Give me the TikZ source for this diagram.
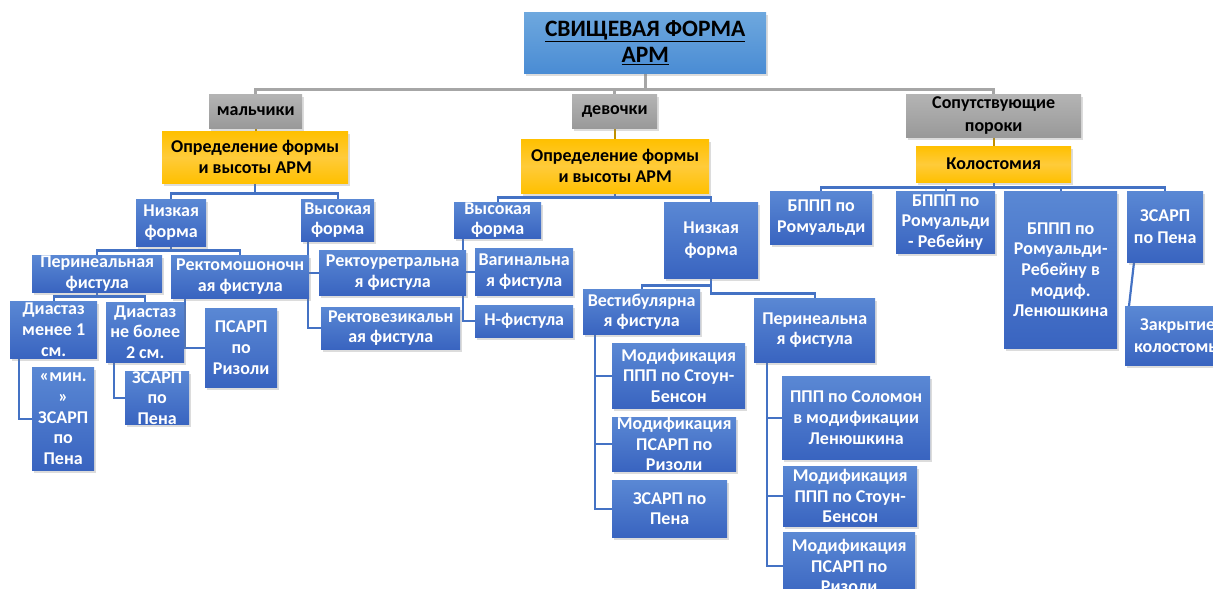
\documentclass[tikz,border=0pt]{standalone}
\usepackage{fontspec}
\setmainfont{Carlito}
\usetikzlibrary{shadows,calc}
\pgfdeclarelayer{background}
\pgfsetlayers{background,main}
\definecolor{bTop}{HTML}{5A88D4}
\definecolor{bBot}{HTML}{3964C0}
\definecolor{tTop}{HTML}{6EA8DE}
\definecolor{tBot}{HTML}{4A8CD4}
\definecolor{gTop}{HTML}{B4B4B4}
\definecolor{gBot}{HTML}{999999}
\definecolor{yTop}{HTML}{FFC000}
\definecolor{yMid}{HTML}{FFCB3A}
\definecolor{lineBlue}{HTML}{4472C4}
\definecolor{lineGray}{HTML}{A6A6A6}
\definecolor{lineGold}{HTML}{C09000}
\tikzset{
  sz/.style 2 args={minimum width=#1pt, minimum height=#2pt},
  base/.style={anchor=north west, inner sep=0pt, align=center,
    font=\bfseries\fontsize{18}{20.6}\selectfont,
    drop shadow={shadow xshift=1.5pt, shadow yshift=-3pt, opacity=0.28}},
  bbox/.style={base, text=white, top color=bTop, bottom color=bBot},
  gbox/.style={base, text=black, top color=gTop, bottom color=gBot},
  ybox/.style={base, text=black, top color=yTop, bottom color=yTop, middle color=yMid},
  tbox/.style={base, text=black, top color=tTop, bottom color=tBot,
    font=\bfseries\fontsize{23.5}{26}\selectfont},
  gline/.style={draw=lineGray, line width=2.6pt},
  yline/.style={draw=lineGold, line width=2.2pt},
  bline/.style={draw=lineBlue, line width=2.2pt},
}
\begin{document}
\begin{tikzpicture}[x=1pt, y=-1pt]
\useasboundingbox (0,0) rectangle (1213,589);
\clip (0,0) rectangle (1213,589);

% top level
\node[tbox, sz={242}{61}] (top) at (524,12) {\underline{СВИЩЕВАЯ ФОРМА}\\\underline{АРМ}};
\node[gbox, sz={93}{34}] (boys) at (209,94) {мальчики};
\node[gbox, sz={85}{34}] (girls) at (572,94) {девочки};
\node[gbox, sz={175}{43}, font=\bfseries\fontsize{18}{23}\selectfont] (assoc) at (906,94) {Сопутствующие\\пороки};
\node[ybox, sz={186}{52}] (defB) at (162,131) {Определение формы\\и высоты АРМ};
\node[ybox, sz={188}{54}] (defG) at (521,139) {Определение формы\\и высоты АРМ};
\node[ybox, sz={155}{36}] (colo) at (916,146) {Колостомия};

% boys
\node[bbox, sz={70}{47}] (lowB) at (136,199) {Низкая\\форма};
\node[bbox, sz={73}{42}] (highB) at (301,199) {Высокая\\форма};
\node[bbox, sz={130}{37}] (perB) at (32,255) {Перинеальная\\фистула};
\node[bbox, sz={138}{43}] (rmsB) at (171,255) {Ректомошоночн\\ая фистула};
\node[bbox, sz={87}{57}] (d1) at (10,301) {Диастаз\\менее 1\\см.};
\node[bbox, sz={78}{60}] (d2) at (106,302) {Диастаз\\не более\\2 см.};
\node[bbox, sz={62}{103}] (minz) at (32,367) {«мин.\\»\\ЗСАРП\\по\\Пена};
\node[bbox, sz={64}{49}] (zB) at (125,371) {ЗСАРП\\по\\Пена};
\node[bbox, sz={72}{79}] (psB) at (205,308) {ПСАРП\\по\\Ризоли};
\node[bbox, sz={147}{45}] (ruB) at (319,250) {Ректоуретральна\\я фистула};
\node[bbox, sz={139}{42}] (rvB) at (321,307) {Ректовезикальн\\ая фистула};

% girls
\node[bbox, sz={87}{36}] (highG) at (454,202) {Высокая\\форма};
\node[bbox, sz={94}{76}, font=\bfseries\fontsize{18}{21.6}\selectfont] (lowG) at (664,202) {Низкая\\форма};
\node[bbox, sz={98}{47}] (vag) at (475,248) {Вагинальна\\я фистула};
\node[bbox, sz={98}{32}] (hfis) at (475,305) {Н-фистула};
\node[bbox, sz={117}{45}] (vest) at (583,289) {Вестибулярна\\я фистула};
\node[bbox, sz={121}{64}] (perG) at (754,298) {Перинеальна\\я фистула};
\node[bbox, sz={133}{65}] (m1) at (612,343) {Модификация\\ППП по Стоун-\\Бенсон};
\node[bbox, sz={124}{54}] (m2) at (612,417) {Модификация\\ПСАРП по\\Ризоли};
\node[bbox, sz={115}{57}] (m3) at (612,480) {ЗСАРП по\\Пена};
\node[bbox, sz={148}{83}] (s1) at (782,376) {ППП по Соломон\\в модификации\\Ленюшкина};
\node[bbox, sz={134}{60}] (s2) at (783,466) {Модификация\\ППП по Стоун-\\Бенсон};
\node[bbox, sz={132}{68}] (s3) at (783,532) {Модификация\\ПСАРП по\\Ризоли};

% associated
\node[bbox, sz={102}{53}, font=\bfseries\fontsize{18}{21.3}\selectfont] (c1) at (770,191) {БППП по\\Ромуальди};
\node[bbox, sz={99}{62}] (c2) at (896,191) {БППП по\\Ромуальди\\- Ребейну};
\node[bbox, sz={113}{157}] (c3) at (1004,191) {БППП по\\Ромуальди-\\Ребейну в\\модиф.\\Ленюшкина};
\node[bbox, sz={76}{71}, font=\bfseries\fontsize{18}{21.3}\selectfont] (c4) at (1127,191) {ЗСАРП\\по Пена};
\node[bbox, sz={105}{59}, font=\bfseries\fontsize{18}{21.3}\selectfont] (close) at (1125,306) {Закрытие\\колостомы};

\begin{pgfonlayer}{background}
\draw[gline] (top.south) -- ++(0,16) -| (boys.north);
\draw[gline] (top.south) -- ++(0,16) -| (girls.north);
\draw[gline] (top.south) -- ++(0,16) -| (assoc.north);
\draw[yline] (boys.south) -- (boys.south |- defB.north);
\draw[yline] (girls.south) -- (girls.south |- defG.north);
\draw[yline] (assoc.south) -- (assoc.south |- colo.north);

\draw[bline] (defB.south) -- ++(0,10) -| (lowB.north);
\draw[bline] (defB.south) -- ++(0,10) -| (highB.north);
\draw[bline] (lowB.south) -- ++(0,4) -| (perB.north);
\draw[bline] (lowB.south) -- ++(0,4) -| (rmsB.north);
\draw[bline] (perB.south) -- ++(0,4) -| (d1.north);
\draw[bline] (perB.south) -- ++(0,4) -| (d2.north);
\draw[bline] ([xshift=9pt]d1.south west) |- (minz.west);
\draw[bline] ([xshift=8pt]d2.south west) |- (zB.west);
\draw[bline] ([xshift=14pt]rmsB.south west) |- (psB.west);
\draw[bline] ([xshift=7pt]highB.south west) |- (ruB.west);
\draw[bline] ([xshift=7pt]highB.south west) |- (rvB.west);

\draw[bline] (defG.south) -- ++(0,4) -| (highG.north);
\draw[bline] (defG.south) -- ++(0,4) -| (lowG.north);
\draw[bline] ([xshift=9pt]highG.south west) |- (vag.west);
\draw[bline] ([xshift=9pt]highG.south west) |- (hfis.west);
\draw[bline] (lowG.south) -- ++(0,7) -| (vest.north);
\draw[bline] (lowG.south) -- ++(0,15) -| (perG.north);
\draw[bline] ([xshift=12pt]vest.south west) |- (m1.west);
\draw[bline] ([xshift=12pt]vest.south west) |- (m2.west);
\draw[bline] ([xshift=12pt]vest.south west) |- (m3.west);
\draw[bline] ([xshift=13pt]perG.south west) |- (s1.west);
\draw[bline] ([xshift=13pt]perG.south west) |- (s2.west);
\draw[bline] ([xshift=13pt]perG.south west) |- (s3.west);

\draw[bline] (colo.south) -- ++(0,5) -| (c1.north);
\draw[bline] (colo.south) -- ++(0,5) -| (c2.north);
\draw[bline] (colo.south) -- ++(0,5) -| (c3.north);
\draw[bline] (colo.south) -- ++(0,5) -| (c4.north);
\draw[bline] ([xshift=7pt]c4.south west) -- ([xshift=4pt]close.north west);
\end{pgfonlayer}
\end{tikzpicture}
\end{document}
